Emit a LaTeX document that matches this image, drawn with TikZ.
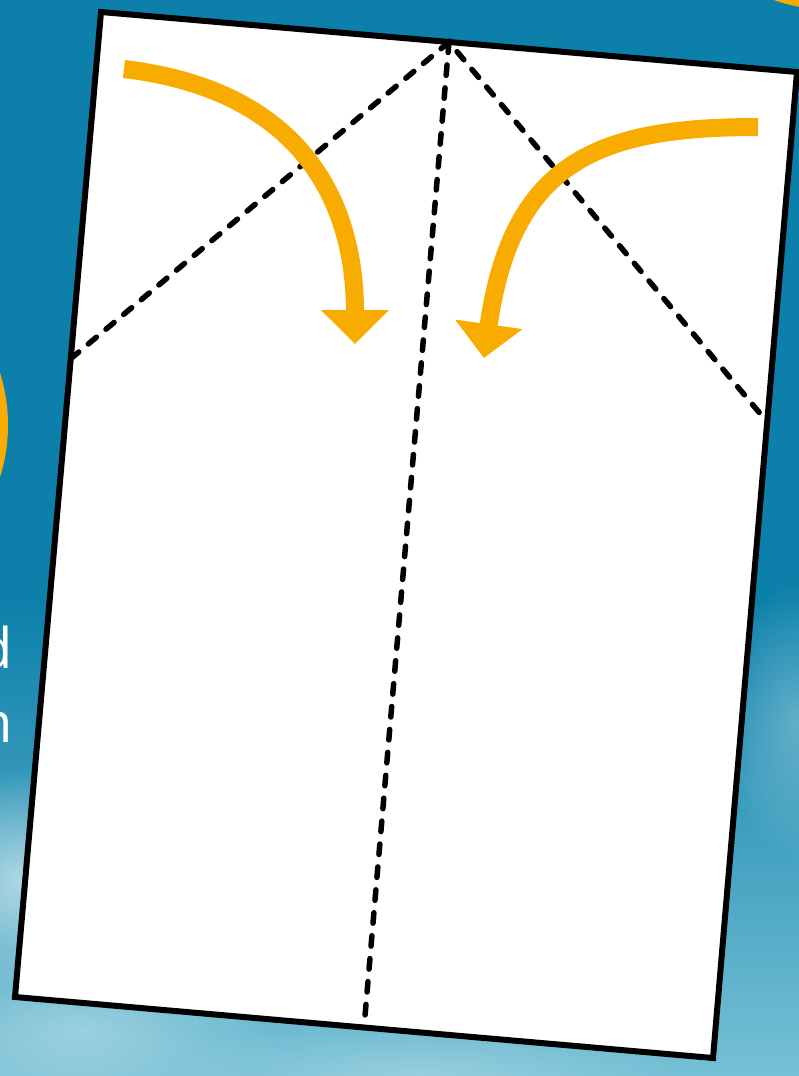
\documentclass[tikz,border=0pt]{standalone}
\usepackage{fontspec}
\usetikzlibrary{arrows.meta, calc, fadings}
\newfontfamily\sidefont{Open Sans}
\definecolor{sky}{RGB}{12,128,170}
\definecolor{haze}{RGB}{118,192,213}
\definecolor{marigold}{RGB}{248,172,0}
\tikzfading[name=soft blob, inner color=transparent!20, outer color=transparent!100]

\begin{document}
\begin{tikzpicture}[x=1pt, y=-1pt, line join=miter,
    paper/.style={fill=white, draw=black, line width=6pt},
    fold/.style={draw=black, line width=5.5pt, line cap=round, dash pattern=on 10.5pt off 12.5pt},
    flap/.style={draw=marigold, line width=18pt, -{Triangle[width=66pt,length=34pt]}},
    blob/.style={fill=white, path fading=soft blob},
    side text/.style={text=white, font=\sidefont\fontsize{56}{74}\selectfont, inner sep=0pt, anchor=base east}]
      \useasboundingbox (0,0) rectangle (799,1076);
      % backdrop
      \fill[sky] (0,0) rectangle (799,1076);
      \shade[top color=sky, bottom color=haze] (0,600) rectangle (799,1076);
      \fill[blob, opacity=0.7] (20,880) ellipse (110 and 110);
      \fill[blob, opacity=0.4] (80,1030) ellipse (200 and 90);
      \fill[blob, opacity=0.35] (799,720) ellipse (80 and 140);
      \fill[blob, opacity=0.3] (420,1076) ellipse (260 and 60);
      \fill[marigold] (-165,425) circle (173);
      \fill[marigold] (833,-170) circle (180);
      \node[side text] (wd) at (13,668) {d};
      \node[side text] (wn) at (13,742) {n};
      % sheet
      \coordinate (tl) at (101,12);
      \coordinate (tr) at (797,72);
      \coordinate (br) at (713,1058);
      \coordinate (bl) at (15,997);
      \coordinate (apex) at ($(tl)!0.5!(tr)$);
      \coordinate (lf) at ($(tl)!0.352!(bl)$);
      \coordinate (rf) at ($(tr)!0.355!(br)$);
      \coordinate (bm) at ($(bl)!0.5!(br)$);
      \path[paper] (tl) -- (tr) -- (br) -- (bl) -- cycle;
      \path[fold] (lf) -- (apex) -- (rf)
      (apex) -- (bm);
      % arrows
      \coordinate (ls) at (124,69);
      \coordinate (le) at (355,344);
      \coordinate (rs) at (758,127);
      \coordinate (re) at (484,358);
      \draw[flap] (ls) .. controls (300,90) and (355,200) .. (le);
      \draw[flap] (rs) .. controls (600,127) and (512,160) .. (re);
    \end{tikzpicture}
\end{document}
